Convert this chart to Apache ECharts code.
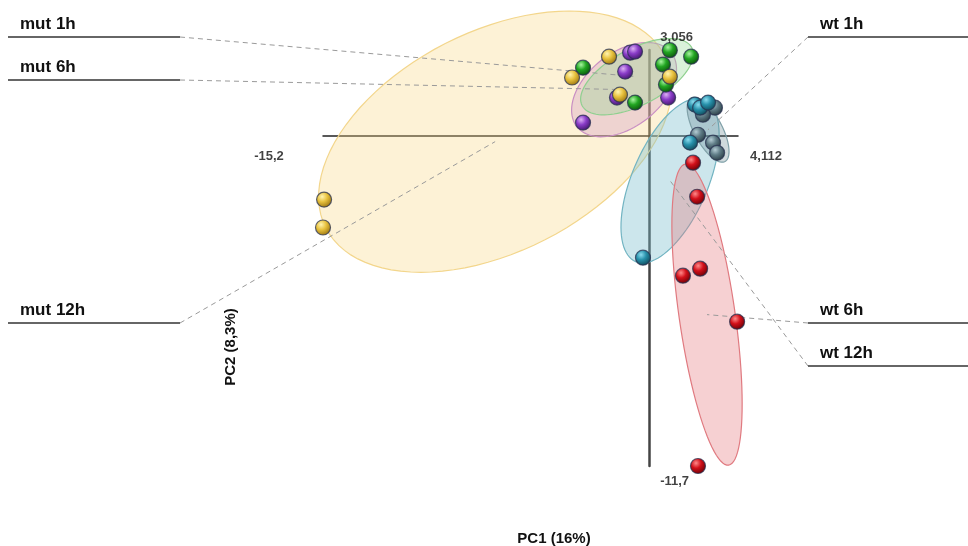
<!DOCTYPE html>
<html>
<head>
<meta charset="utf-8">
<script src="https://cdn.jsdelivr.net/npm/echarts@6/dist/echarts.min.js"></script>
<style>
html, body { margin: 0; padding: 0; background: #fff; }
#pca { width: 968px; height: 546px; }
</style>
</head>
<body>
<div id="pca"></div>
<script>
// groups, in label order
const groups = ['mut 1h', 'mut 6h', 'mut 12h', 'wt 1h', 'wt 6h', 'wt 12h']

// PC1 / PC2 scores per group
const mut1h = [[-3.10, 2.43], [-0.68, 1.19], [0.94, 3.05], [1.93, 2.82], [0.62, 2.54], [0.76, 1.83]]
const mut6h = [[-0.91, 2.96], [-0.68, 3.00], [-1.14, 2.29], [-1.52, 1.37], [-3.10, 0.48], [0.86, 1.37]]
const mut12h = [[-3.61, 2.08], [-1.89, 2.82], [-1.38, 1.47], [0.94, 2.11], [-15.15, -2.25], [-15.2, -3.24]]
const wt1h = [[3.04, 1.01], [2.48, 0.76], [2.25, 0.05], [2.95, -0.23], [3.14, -0.59]]
const wt6h = [[2.02, -0.94], [2.21, -2.15], [1.55, -4.95], [2.35, -4.70], [4.07, -6.58], [2.25, -11.7]]
const wt12h = [[2.11, 1.12], [2.35, 1.01], [2.72, 1.19], [1.88, -0.23], [-0.31, -4.31]]

// confidence ellipses (groups order): centre pc1, pc2, then two conjugate half axes
const ellipseParams = [
  [-0.59, 2.11, 2.55, 1.03, 0.61, -0.88],
  [-1.19, 1.65, 2.20, 1.31, 1.06, -1.04],
  [-7.19, -0.195, 7.88, 3.06, 2.32, -3.48],
  [2.72, 0.23, 0.786, -1.128, -0.577, -0.233],
  [2.67, -6.33, -1.005, 5.34, 1.29, 0.141],
  [0.95, -1.58, 1.60, 2.87, 1.63, -0.525]
]

// axis extents printed at the ends of the axes
const pc1Range = [-15.2, 4.112]
const pc2Range = [-11.7, 3.056]
const axisTitles = ['PC1 (16%)', 'PC2 (8,3%)']

const scores = [mut1h, mut6h, mut12h, wt1h, wt6h, wt12h]

// looks
const ball = [
  ['#a8f5a0', '#22a622', '#0b520b'],
  ['#dcb0f5', '#8a3cc8', '#41166a'],
  ['#fff4b0', '#e8c23e', '#9a7410'],
  ['#b4ccd4', '#5f7c86', '#2a3c44'],
  ['#ff8a8a', '#d2101a', '#6a0006'],
  ['#8adcef', '#2790aa', '#0f4858']
]
const shade = [
  ['rgba(150,215,150,0.35)', '#8fd08f'],
  ['rgba(205,140,195,0.30)', '#c98fc3'],
  ['rgba(250,215,130,0.33)', '#f3d68c'],
  ['rgba(95,130,140,0.30)', '#7fa0a8'],
  ['rgba(228,120,125,0.35)', '#e07a80'],
  ['rgba(120,188,205,0.38)', '#72b4c2']
]
// where the name labels sit: left/right end of the underline and its height
const anchors = [
  { x0: 8, x1: 180, y: 37, side: 'left' },
  { x0: 8, x1: 180, y: 80, side: 'left' },
  { x0: 8, x1: 180, y: 323, side: 'left' },
  { x0: 808, x1: 968, y: 37, side: 'right' },
  { x0: 808, x1: 968, y: 323, side: 'right' },
  { x0: 808, x1: 968, y: 366, side: 'right' }
]
const ellipseOrder = [2, 1, 0, 5, 3, 4]
const ballOrder = [3, 5, 4, 1, 0, 2]
const FONT = '"Liberation Sans", Arial, sans-serif'

function ellipsePoints(api, p) {
  const pts = []
  for (let i = 0; i < 96; i++) {
    const t = i / 96 * Math.PI * 2
    pts.push(api.coord([
      p[0] + p[2] * Math.cos(t) + p[4] * Math.sin(t),
      p[1] + p[3] * Math.cos(t) + p[5] * Math.sin(t)
    ]))
  }
  return pts
}

const series = []

series.push({
  type: 'custom',
  name: 'ellipses',
  silent: true,
  data: ellipseOrder.map(g => ellipseParams[g]),
  encode: { x: 0, y: 1 },
  renderItem: function (params, api) {
    const g = ellipseOrder[params.dataIndex]
    const p = [0, 1, 2, 3, 4, 5].map(i => api.value(i))
    return {
      type: 'polygon',
      shape: { points: ellipsePoints(api, p) },
      style: { fill: shade[g][0], stroke: shade[g][1], lineWidth: 1.2 }
    }
  }
})

series.push({
  type: 'custom',
  name: 'labels',
  silent: true,
  data: ellipseParams.map(p => [p[0], p[1]]),
  encode: { x: 0, y: 1 },
  renderItem: function (params, api) {
    const g = params.dataIndex
    const a = anchors[g]
    const c = api.coord([api.value(0), api.value(1)])
    const start = a.side === 'left' ? a.x1 : a.x0
    return {
      type: 'group',
      children: [
        { type: 'line', shape: { x1: start, y1: a.y, x2: c[0], y2: c[1] },
          style: { stroke: '#9a9a9a', lineWidth: 1, lineDash: [5, 4] } },
        { type: 'line', shape: { x1: a.x0, y1: a.y, x2: a.x1, y2: a.y },
          style: { stroke: '#333', lineWidth: 1.5 } },
        { type: 'text', style: { text: groups[g], x: a.x0 + 12, y: a.y - 13,
          font: 'bold 17px ' + FONT, fill: '#111', verticalAlign: 'middle' } }
      ]
    }
  }
})

ballOrder.forEach(g => {
  series.push({
    type: 'scatter',
    name: groups[g],
    data: scores[g],
    symbolSize: 15,
    itemStyle: {
      color: new echarts.graphic.RadialGradient(0.38, 0.32, 0.7, [
        { offset: 0, color: ball[g][0] },
        { offset: 0.45, color: ball[g][1] },
        { offset: 1, color: ball[g][2] }
      ]),
      borderColor: 'rgba(40,50,80,0.75)',
      borderWidth: 1.2,
      opacity: 1
    }
  })
})

const fmt = v => String(v).replace('.', ',')
series.push({
  type: 'scatter',
  name: 'axis ends',
  silent: true,
  symbolSize: 0,
  data: [
    { value: [pc1Range[0], 0], label: { offset: [-54, 20] } },
    { value: [pc1Range[1], 0], label: { offset: [28, 20] } },
    { value: [0, pc2Range[1]], label: { offset: [27, -13] } },
    { value: [0, pc2Range[0]], label: { offset: [25, 15] } }
  ],
  label: {
    show: true,
    position: 'inside',
    color: '#111',
    fontWeight: 'bold',
    fontSize: 13,
    fontFamily: FONT,
    formatter: p => fmt(p.dataIndex < 2 ? p.value[0] : p.value[1])
  }
})

const chart = echarts.init(document.getElementById('pca'))
chart.setOption({
  animation: false,
  backgroundColor: '#fff',
  grid: { left: 323, right: 230, top: 50, bottom: 80, outerBoundsMode: 'none' },
  xAxis: {
    type: 'value', min: pc1Range[0], max: pc1Range[1],
    axisLine: { onZero: true, lineStyle: { color: '#222', width: 1.5 } },
    axisTick: { show: false }, axisLabel: { show: false }, splitLine: { show: false }
  },
  yAxis: {
    type: 'value', min: pc2Range[0], max: pc2Range[1],
    axisLine: { onZero: true, lineStyle: { color: '#444', width: 2.5 } },
    axisTick: { show: false }, axisLabel: { show: false }, splitLine: { show: false }
  },
  graphic: [
    { type: 'text', x: 554, y: 539, style: { text: axisTitles[0], font: 'bold 15px ' + FONT,
      fill: '#111', align: 'center', verticalAlign: 'middle' } },
    { type: 'text', x: 231, y: 347, rotation: Math.PI / 2, style: { text: axisTitles[1],
      font: 'bold 15px ' + FONT, fill: '#111', align: 'center', verticalAlign: 'middle' } }
  ],
  series: series
})
</script>
</body>
</html>
